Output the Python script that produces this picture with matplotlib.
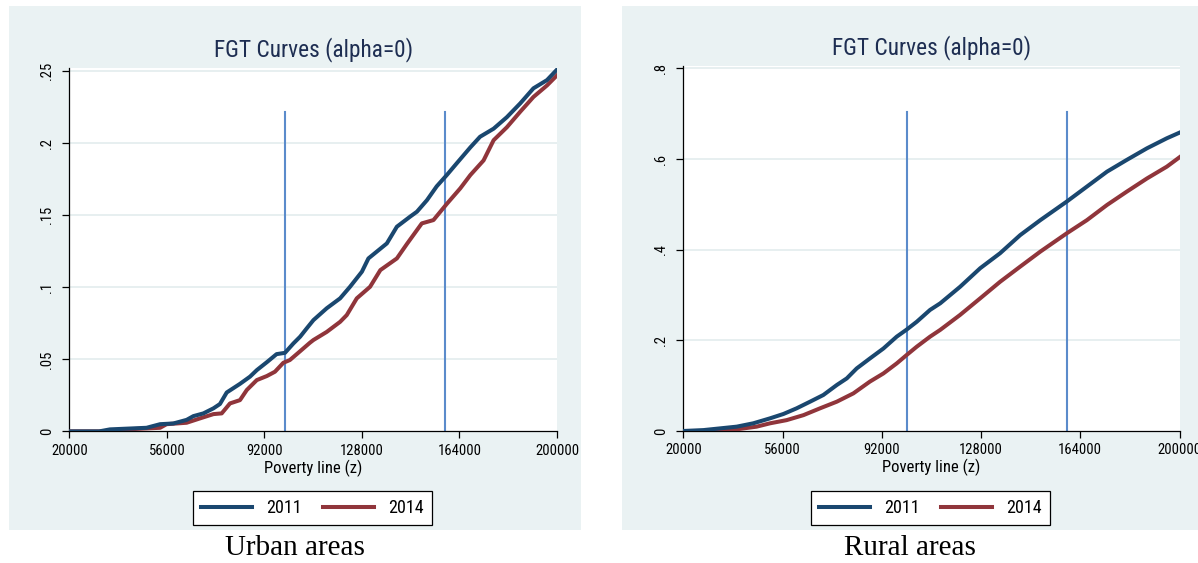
import matplotlib
matplotlib.use("Agg")
import matplotlib.pyplot as plt
from matplotlib.patches import Rectangle
from matplotlib import font_manager as fm

def pick(fams):
    for f in fams:
        try:
            fm.findfont(fm.FontProperties(family=f), fallback_to_default=False)
            return f
        except Exception:
            pass
    return "DejaVu Sans"

SANS = pick(["Liberation Sans Narrow", "Roboto Condensed", "Arial Narrow", "Liberation Sans"])
SERIF = pick(["Liberation Serif", "DejaVu Serif"])

# ---------------- data ----------------
title_text = "FGT Curves (alpha=0)"
xlabel_text = "Poverty line (z)"
series_labels = ["2011", "2014"]
captions = ["Urban areas", "Rural areas"]
xticks = [20000, 56000, 92000, 128000, 164000, 200000]

urban_yticks = [0, 0.05, 0.10, 0.15, 0.20, 0.25]
urban_yticklabels = ["0", ".05", ".1", ".15", ".2", ".25"]
rural_yticks = [0, 0.2, 0.4, 0.6, 0.8]
rural_yticklabels = ["0", ".2", ".4", ".6", ".8"]

urban_vlines = [99500, 158600]
urban_vline_top = 0.2217
rural_vlines = [101000, 159100]
rural_vline_top = 0.703

urban_2011_x = [20000, 31000, 35000, 48500, 53500, 58400, 63300, 65800, 69500, 73200, 75600,
                78100, 83000, 86700, 89200, 92900, 96500, 99600, 102700, 105200, 107600, 110100,
                115000, 119950, 123600, 128000, 130400, 137200, 140900, 145800, 148300, 152000,
                155600, 159400, 163000, 168000, 171600, 176600, 181500, 186400, 191300, 196300, 200000]
urban_2011_y = [0, 0, 0.0014, 0.0025, 0.005, 0.0055, 0.008, 0.0106, 0.0125, 0.016, 0.019,
                0.027, 0.033, 0.038, 0.0425, 0.048, 0.0536, 0.0545, 0.061, 0.0657, 0.0714, 0.0772,
                0.0854, 0.0923, 0.1003, 0.1108, 0.12, 0.1304, 0.142, 0.149, 0.1524, 0.1604,
                0.17, 0.178, 0.186, 0.197, 0.2044, 0.210, 0.218, 0.2275, 0.238, 0.2437, 0.251]

urban_2014_x = [20000, 33000, 41200, 53500, 55900, 63300, 68200, 73200, 76250, 79300, 83000,
                85500, 89200, 92900, 95900, 99000, 101400, 104500, 108800, 110100, 115000, 119950,
                122400, 126100, 131000, 134800, 140900, 144600, 150100, 154400, 159400, 164300,
                168000, 172900, 176600, 181500, 186400, 191300, 196300, 200000]
urban_2014_y = [0, 0, 0.0014, 0.0025, 0.005, 0.006, 0.009, 0.012, 0.0125, 0.0194, 0.0217,
                0.0287, 0.0356, 0.0384, 0.0414, 0.0476, 0.0495, 0.0545, 0.0615, 0.0634, 0.069, 0.076,
                0.0807, 0.0923, 0.1003, 0.1119, 0.12, 0.130, 0.1443, 0.1466, 0.158, 0.1686,
                0.1778, 0.188, 0.202, 0.211, 0.2217, 0.232, 0.240, 0.247]

rural_2011_x = [20000, 27300, 39400, 45400, 51500, 56300, 61100, 66000, 70800, 75700, 79300,
                82900, 87700, 92600, 97400, 101100, 104700, 109500, 113200, 120400, 127700, 134900,
                142200, 149500, 159100, 166400, 173700, 180900, 188200, 195400, 200000]
rural_2011_y = [0, 0.002, 0.0096, 0.017, 0.028, 0.0375, 0.05, 0.0647, 0.0794, 0.1015, 0.116,
                0.138, 0.160, 0.182, 0.208, 0.224, 0.241, 0.267, 0.2816, 0.318, 0.359, 0.392,
                0.432, 0.465, 0.506, 0.539, 0.572, 0.598, 0.6235, 0.6456, 0.658]

rural_2014_x = [20000, 27300, 39400, 46600, 51500, 57500, 63600, 69600, 75700, 81700, 87700,
                92600, 97400, 101100, 104700, 109500, 113200, 120400, 127700, 134900, 142200,
                149500, 159100, 166400, 173700, 180900, 188200, 195400, 200000]
rural_2014_y = [0, 0, 0.0037, 0.0096, 0.017, 0.024, 0.035, 0.05, 0.0647, 0.083, 0.109,
                0.127, 0.149, 0.168, 0.186, 0.208, 0.223, 0.256, 0.2926, 0.329, 0.3625,
                0.3956, 0.436, 0.465, 0.4985, 0.528, 0.557, 0.583, 0.6037]

# ---------------- style ----------------
W, H = 1198, 563
BG = "#EAF2F3"
GRID = "#E3ECEE"
C2011 = "#1A476F"
C2014 = "#90353B"
VLINE = "#5B8BCB"
TITLE_C = "#1E2E52"

fig = plt.figure(figsize=(W / 100, H / 100), dpi=100)
fig.patch.set_facecolor("white")

def fx(px):
    return px / W

def fy(py):
    return 1 - py / H

# panel backgrounds (pixel boxes)
panels = [(9, 6, 581, 530), (622, 6, 1198, 530)]
for (x0, y0, x1, y1) in panels:
    fig.patches.append(Rectangle((fx(x0), fy(y1)), fx(x1) - fx(x0), fy(y0) - fy(y1),
                                 transform=fig.transFigure, facecolor=BG, edgecolor="none", zorder=-5))

def make_panel(box, ytop_px, ylim_top, yticks, yticklabels, xs, ys, vlines, vtop, legend_box, caption, panel_box):
    x0, x1, ybot = box
    ax = fig.add_axes([fx(x0), fy(ybot), fx(x1) - fx(x0), fy(ytop_px) - fy(ybot)])
    ax.set_zorder(1)
    ax.set_facecolor("white")
    ax.set_xlim(20000, 200000)
    ax.set_ylim(0, ylim_top)
    for s in ["top", "right"]:
        ax.spines[s].set_visible(False)
    for s in ["left", "bottom"]:
        ax.spines[s].set_color("black")
        ax.spines[s].set_linewidth(0.9)
    ax.set_yticks(yticks)
    ax.set_yticklabels(yticklabels, rotation=90, va="center", fontfamily=SANS, fontsize=10.5)
    ax.set_xticks(xticks)
    ax.set_xticklabels([str(v) for v in xticks], fontfamily=SANS, fontsize=10.5)
    ax.tick_params(axis="both", direction="out", length=5, width=0.9, color="black", pad=4)
    ax.tick_params(axis="y", pad=6)
    for t in yticks[1:]:
        ax.axhline(t, color=GRID, lw=1.2, zorder=1)
    for v in vlines:
        ax.plot([v, v], [0, vtop], color=VLINE, lw=1.5, zorder=2)
    h1, = ax.plot(xs[0], ys[0], color=C2011, lw=2.9, zorder=4, solid_joinstyle="round")
    h2, = ax.plot(xs[1], ys[1], color=C2014, lw=2.9, zorder=3, solid_joinstyle="round")
    ax.set_xlabel(xlabel_text, fontfamily=SANS, fontsize=12, labelpad=1)
    ax.set_title(title_text, fontfamily=SANS, fontsize=16.8, color=TITLE_C, pad=8)
    lx0, ly0, lx1, ly1 = legend_box
    leg = fig.legend([h1, h2], series_labels, loc="center",
                     bbox_to_anchor=(fx((lx0 + lx1) / 2), fy((ly0 + ly1) / 2)),
                     ncol=2, frameon=True, fancybox=False, edgecolor="black", framealpha=1,
                     prop={"family": SANS, "size": 13}, handlelength=2.8, columnspacing=1.2,
                     handletextpad=0.8, borderpad=0.45, borderaxespad=0)
    leg.get_frame().set_linewidth(0.9)
    leg.set_zorder(2)
    px0, py0, px1, py1 = panel_box
    fig.text(fx((px0 + px1) / 2), fy(548), caption, ha="center", va="center",
             fontfamily=SERIF, fontsize=21)
    return ax

make_panel((69.3, 557, 431.4), 68, 0.2521, urban_yticks, urban_yticklabels,
           [urban_2011_x, urban_2014_x], [urban_2011_y, urban_2014_y],
           urban_vlines, urban_vline_top, (197, 490, 428, 526), captions[0], panels[0])
make_panel((683.3, 1179.5, 431), 66, 0.805, rural_yticks, rural_yticklabels,
           [rural_2011_x, rural_2014_x], [rural_2011_y, rural_2014_y],
           rural_vlines, rural_vline_top, (813, 490, 1048, 526), captions[1], panels[1])

fig.savefig("out.png", dpi=100)
